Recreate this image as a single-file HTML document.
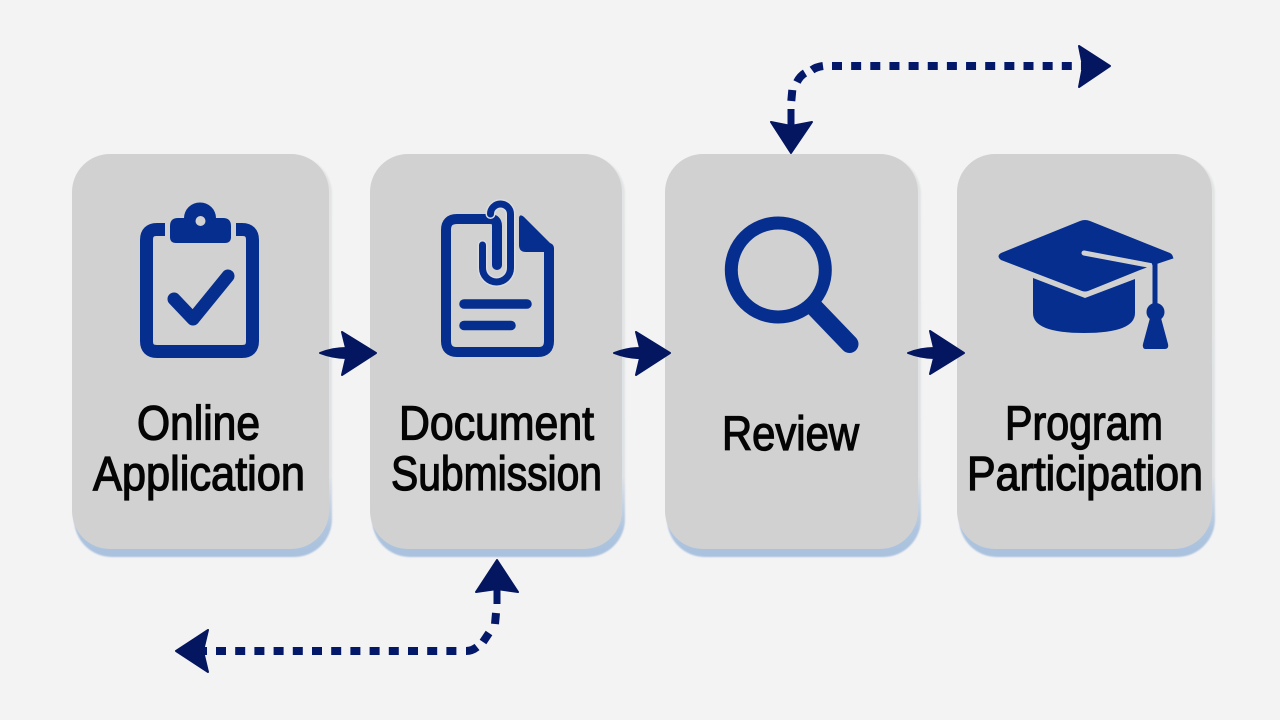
<!DOCTYPE html>
<html>
<head>
<meta charset="utf-8">
<style>
html,body{margin:0;padding:0;background:#f3f3f4;width:1280px;height:720px;overflow:hidden}
svg{display:block}
text{font-family:"Liberation Sans",sans-serif;font-size:48px;fill:#050505;stroke:#050505;stroke-width:1.3px;text-anchor:start}
</style>
</head>
<body>
<svg width="1280" height="720" viewBox="0 0 1280 720" xmlns="http://www.w3.org/2000/svg">
<defs>
<filter id="b" x="-5%" y="-5%" width="110%" height="110%"><feGaussianBlur stdDeviation="0.7"/></filter>
<linearGradient id="s" x1="0" y1="0" x2="0" y2="1">
<stop offset="0" stop-color="#e3e4e5"/>
<stop offset="0.8" stop-color="#dfe2e5"/>
<stop offset="0.93" stop-color="#afc5df"/>
<stop offset="1" stop-color="#a9c1de"/>
</linearGradient>
</defs>
<rect width="1280" height="720" fill="#f3f3f4"/>

<!-- card shadows -->
<g filter="url(#b)" fill="url(#s)">
<rect x="74" y="156" width="258" height="401" rx="38"/>
<rect x="372" y="156" width="253" height="401" rx="38"/>
<rect x="667" y="156" width="254" height="401" rx="38"/>
<rect x="959" y="156" width="256" height="401" rx="38"/>
</g>
<!-- cards -->
<rect x="72" y="154" width="257" height="395" rx="38" fill="#d1d1d1"/>
<rect x="370" y="154" width="252" height="395" rx="38" fill="#d1d1d1"/>
<rect x="665" y="154" width="253" height="395" rx="38" fill="#d1d1d1"/>
<rect x="957" y="154" width="255" height="395" rx="38" fill="#d1d1d1"/>

<!-- clipboard -->
<g fill="none" stroke="#052e8f" stroke-width="13">
<path d="M165,229.5 H157 Q146.5,229.5 146.5,240 V341 Q146.5,351.5 157,351.5 H242 Q252.5,351.5 252.5,341 V240 Q252.5,229.5 242,229.5 H236"/>
<path d="M174,299 L193,319 L228,276" stroke-linecap="round" stroke-linejoin="round"/>
</g>
<path d="M176,243 Q170,243 170,237 V226 Q170,218 178,218 H184 A16,15.500 0 0 1 216,218 H223 Q231,218 231,226 V237 Q231,243 225,243 Z" fill="#052e8f"/>
<circle cx="200.500" cy="221" r="5" fill="#d1d1d1"/>

<!-- document -->
<g fill="none" stroke="#052e8f">
<path d="M497,265 V226 Q497,219 490,219 H457 Q446,219 446,230 V341 Q446,352 457,352 H538 Q549,352 549,341 V248" stroke-width="10" stroke-linecap="round"/>
<path d="M482.500,245 V268 A14,14 0 0 0 510.500,268 V214 A10,10 0 0 0 490.500,214" stroke="#dadcdf" stroke-width="10" stroke-linecap="round"/>
<path d="M497,265 V226" stroke-width="7" stroke-linecap="round"/>
<path d="M482.500,245 V268 A14,14 0 0 0 510.500,268 V214 A10,10 0 0 0 490.500,214" stroke-width="7" stroke-linecap="round"/>
<path d="M464,304 H527" stroke-width="9.500" stroke-linecap="round"/>
<path d="M464,325.500 H511" stroke-width="9.500" stroke-linecap="round"/>
</g>
<path d="M519,219 Q519,213 524,217 L552,245 Q556,252 549,252 H526 Q519,252 519,245 Z" fill="#052e8f"/>

<!-- magnifier -->
<g fill="none" stroke="#052e8f">
<circle cx="778.300" cy="270" r="47" stroke-width="13"/>
<path d="M813,306 L849.500,344" stroke-width="18" stroke-linecap="round"/>
</g>

<!-- cap -->
<path d="M1033,278 L1085,298 L1135,279 V313 Q1135,333 1084,333 Q1033,333 1033,313 Z" fill="#052e8f"/>
<path d="M1080,221 Q1085,219 1090,221 L1170,253 Q1175,256 1170,259 L1140,270 L1088,291 Q1085,292 1082,291 L1001,260 Q996,256 1001,253 Z" fill="#052e8f"/>
<path d="M1084,253 L1153,266" stroke="#d1d1d1" stroke-width="5" stroke-linecap="round" fill="none"/>
<path d="M1141,270 L1172,259 V272 H1141 Z" fill="#d1d1d1"/>
<path d="M1155,262 V306" stroke="#052e8f" stroke-width="5" fill="none"/>
<path d="M1152,264 L1173,257" stroke="#052e8f" stroke-width="3" fill="none"/>
<circle cx="1155.500" cy="312" r="9" fill="#052e8f"/>
<path d="M1150,318 H1161 L1168,344 Q1169,349 1165,349 H1146 Q1142,349 1143,344 Z" fill="#052e8f"/>

<!-- labels -->
<text x="137" y="439.500" textLength="123" lengthAdjust="spacingAndGlyphs">Online</text>
<text x="93" y="490" textLength="212" lengthAdjust="spacingAndGlyphs">Application</text>
<text x="399" y="439.500" textLength="195" lengthAdjust="spacingAndGlyphs">Document</text>
<text x="391" y="490" textLength="211" lengthAdjust="spacingAndGlyphs">Submission</text>
<text x="722" y="450" textLength="137" lengthAdjust="spacingAndGlyphs">Review</text>
<text x="1005" y="439.500" textLength="158" lengthAdjust="spacingAndGlyphs">Program</text>
<text x="967" y="490" textLength="236" lengthAdjust="spacingAndGlyphs">Participation</text>

<!-- straight arrows -->
<g fill="#04165f" stroke="#04165f" stroke-width="2" stroke-linejoin="round">
<path d="M320,353 Q333,348 346,348 L342,332 L376,353 L342,375 L346,358 Q333,358 320,353 Z"/>
<path d="M614,353 Q627,348 640,348 L636,332 L670,353 L636,375 L640,358 Q627,358 614,353 Z"/>
<path d="M908,353 Q921,348 934,348 L930,331 L964,353 L930,374 L934,358 Q921,358 908,353 Z"/>
</g>

<!-- top dashed connector -->
<g fill="none" stroke="#04186a" stroke-width="8">
<path d="M832,66 H1084" stroke-dasharray="10 9.150"/>
<path d="M792.300,90 L791.300,101"/>
<path d="M797,82 Q800,76 805,73"/>
<path d="M812,70 Q816,67 823,66"/>
<path d="M791,109 V128" stroke-width="7"/>
</g>
<g fill="#04165f" stroke="#04165f" stroke-width="2" stroke-linejoin="round">
<path d="M1079,46 L1110,66 L1079,87 L1083,66 Z"/>
<path d="M771,122 L791,126 L812,122 L791,153 Z"/>
</g>

<!-- bottom dashed connector -->
<g fill="none" stroke="#04186a" stroke-width="8">
<path d="M216,651 H458" stroke-dasharray="10 9.200"/>
<path d="M200,651 H207"/>
<path d="M496,613 L495,624"/>
<path d="M489,633 L483,642"/>
<path d="M477,647 Q472,651 466,651"/>
<path d="M497,585 V604" stroke-width="7"/>
</g>
<g fill="#04165f" stroke="#04165f" stroke-width="2" stroke-linejoin="round">
<path d="M208,630 L176,651 L208,672 L203,651 Z"/>
<path d="M497,560 L518,592 L497,589 L476,592 Z"/>
</g>
</svg>
</body>
</html>
